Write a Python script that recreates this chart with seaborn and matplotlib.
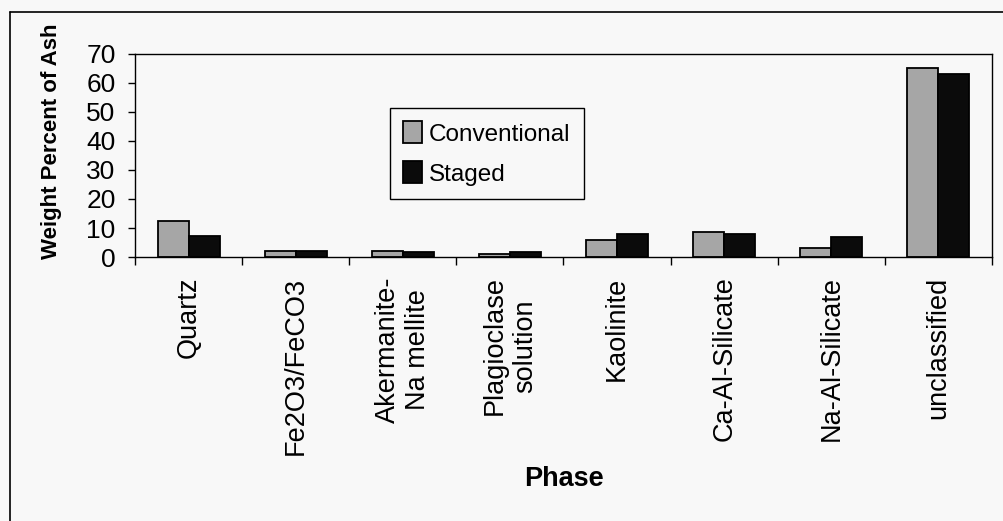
import matplotlib
matplotlib.use("Agg")
import matplotlib.pyplot as plt
from matplotlib.lines import Line2D
import numpy as np
import pandas as pd
import seaborn as sns

# data
phases = [
    "Quartz",
    "Fe2O3/FeCO3",
    "Akermanite-\nNa mellite",
    "Plagioclase\nsolution",
    "Kaolinite",
    "Ca-Al-Silicate",
    "Na-Al-Silicate",
    "unclassified",
]
conventional = [12.4, 2.2, 2.2, 0.9, 5.9, 8.7, 3.0, 65.1]
staged = [7.3, 2.1, 1.6, 1.7, 7.8, 7.8, 6.8, 63.1]
series = ["Conventional", "Staged"]
colors = ["#a6a6a6", "#0b0b0b"]

df = pd.DataFrame(
    {
        "Phase": phases * 2,
        "value": conventional + staged,
        "series": [series[0]] * len(phases) + [series[1]] * len(phases),
    }
)

sns.set_theme(style="white")
plt.rcParams["font.family"] = ["Liberation Sans", "DejaVu Sans"]
plt.rcParams["text.color"] = "black"
plt.rcParams["axes.labelcolor"] = "black"
plt.rcParams["xtick.color"] = "black"
plt.rcParams["ytick.color"] = "black"
bg = "#f8f8f8"

fig = plt.figure(figsize=(10.04, 5.21), dpi=100, facecolor=bg)
ax = fig.add_axes([0.1345, 0.5067, 0.8535, 0.3897])
ax.set_facecolor(bg)

sns.barplot(
    data=df,
    x="Phase",
    y="value",
    hue="series",
    hue_order=series,
    palette=colors,
    width=0.58,
    gap=0,
    edgecolor="black",
    linewidth=1.3,
    saturation=1,
    ax=ax,
)

ax.set_ylim(0, 70)
ax.set_xlim(-0.5, len(phases) - 0.5)
ax.set_yticks(np.arange(0, 71, 10))
ax.tick_params(axis="y", labelsize=19, length=5, width=1, direction="out",
               left=True, pad=9, colors="black")
ax.tick_params(axis="x", which="major", labelsize=19.5, length=0, pad=14,
               rotation=90, colors="black")
ax.set_xticks(np.arange(len(phases) + 1) - 0.5, minor=True)
ax.tick_params(axis="x", which="minor", length=6, width=1, direction="out",
               bottom=True, colors="black")
for lab in ax.get_xticklabels():
    lab.set_verticalalignment("top")
    lab.set_horizontalalignment("center")
    lab.set_multialignment("center")

for s in ax.spines.values():
    s.set_color("black")
    s.set_linewidth(1)

ax.set_xlabel("Phase", fontsize=19.5, fontweight="bold", color="black")
ax.set_ylabel("Weight Percent of Ash", fontsize=16, fontweight="bold",
              color="black")
ax.xaxis.set_label_coords(0.5, -1.03)
ax.yaxis.set_label_coords(-0.085, 0.569)

leg = ax.legend(
    loc="upper left",
    bbox_to_anchor=(0.2976, 0.734),
    fontsize=17.5,
    frameon=True,
    fancybox=False,
    edgecolor="black",
    facecolor=bg,
    framealpha=1,
    handlelength=0.75,
    handleheight=1.0,
    handletextpad=0.3,
    labelspacing=0.65,
    borderpad=0.55,
    borderaxespad=0,
    title=None,
)
leg.get_frame().set_linewidth(1)

# outer frame (left and top edges visible in the scan)
fig.add_artist(Line2D([10 / 1004, 10 / 1004], [0, 1 - 12 / 521],
                      transform=fig.transFigure, color="black", lw=1.2))
fig.add_artist(Line2D([10 / 1004, 1], [1 - 12 / 521, 1 - 12 / 521],
                      transform=fig.transFigure, color="black", lw=1.2))

fig.savefig("out.png", dpi=100, facecolor=bg)
